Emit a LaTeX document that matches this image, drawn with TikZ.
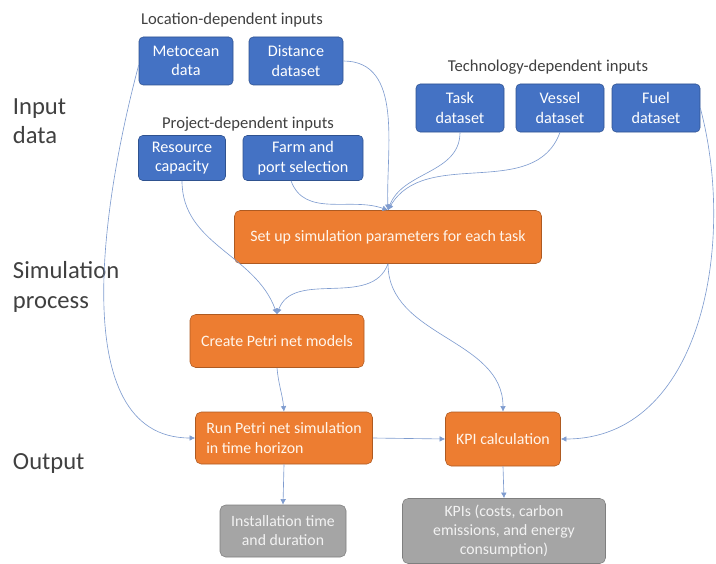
\documentclass[tikz,border=0pt]{standalone}
\usepackage{fontspec}
\setmainfont{Carlito}
\usepackage{xcolor}
\usepackage{tikz}
\usetikzlibrary{arrows.meta,positioning}

\definecolor{inblue}{HTML}{4472C4}
\definecolor{inborder}{HTML}{2F528F}
\definecolor{procorange}{HTML}{ED7D31}
\definecolor{procborder}{HTML}{AE5A21}
\definecolor{outgray}{HTML}{A5A5A5}
\definecolor{outborder}{HTML}{7F7F7F}
\definecolor{linkblue}{HTML}{7F9CCF}
\definecolor{labelgray}{HTML}{404040}

\begin{document}
\begin{tikzpicture}[
    inbox/.style={draw=inborder, fill=inblue, rounded corners=3pt, text=white,
        align=center, font=\fontsize{11.5}{14}\selectfont, inner sep=1pt},
    procbox/.style={draw=procborder, fill=procorange, rounded corners=4pt, text=white!92!orange,
        font=\fontsize{11.3}{14}\selectfont, inner sep=1pt},
    outbox/.style={draw=outborder, fill=outgray, rounded corners=4pt, text=white!90!gray,
        align=center, font=\fontsize{11.2}{13.5}\selectfont, inner sep=1pt},
    group/.style={text=labelgray, font=\fontsize{11.8}{14}\selectfont},
    stage/.style={text=labelgray, anchor=west, align=left, font=\fontsize{17.5}{21}\selectfont},
    conn/.style={linkblue, line width=0.45pt, -{Latex[length=4pt,width=4pt]}}
]

\useasboundingbox (0,0) rectangle (17.9,14.075);

% Stage labels
\node[stage] (lbl-input) at (0.2, 11.05) {Input\\data};
\node[stage] (lbl-sim) at (0.2, 6.9) {Simulation\\process};
\node[stage] (lbl-out) at (0.2, 2.5) {Output};

% Location-dependent inputs
\node[group] (grp-loc) at (5.8, 13.575) {Location-dependent inputs};
\node[inbox, minimum width=2.35cm, minimum height=1.2cm] (meto) at (4.65, 12.55) {Metocean\\data};
\node[inbox, minimum width=2.35cm, minimum height=1.2cm] (dist) at (7.4, 12.55) {Distance\\dataset};

% Technology-dependent inputs
\node[group] (grp-tech) at (13.7, 12.4) {Technology-dependent inputs};
\node[inbox, minimum width=2.2cm, minimum height=1.2cm] (task) at (11.5, 11.375) {Task\\dataset};
\node[inbox, minimum width=2.2cm, minimum height=1.2cm] (vessel) at (14.0, 11.375) {Vessel\\dataset};
\node[inbox, minimum width=2.2cm, minimum height=1.2cm] (fuel) at (16.4, 11.375) {Fuel\\dataset};

% Project-dependent inputs
\node[group] (grp-proj) at (6.2, 10.975) {Project-dependent inputs};
\node[inbox, minimum width=2.175cm, minimum height=1.125cm] (res) at (4.55, 10.125) {Resource\\capacity};
\node[inbox, minimum width=3.0cm, minimum height=1.125cm] (farm) at (7.575, 10.125) {Farm and\\port selection};

% Simulation process
\node[procbox, minimum width=7.675cm, minimum height=1.325cm] (setup) at (9.7, 8.15) {Set up simulation parameters for each task};
\node[procbox, minimum width=4.35cm, minimum height=1.325cm] (create) at (6.925, 5.55) {Create Petri net models};
\node[procbox, minimum width=4.425cm, minimum height=1.3cm, align=left] (run) at (7.1, 3.125) {Run Petri net simulation\\in time horizon};
\node[procbox, minimum width=2.875cm, minimum height=1.35cm] (kpicalc) at (12.575, 3.1) {KPI calculation};

% Output
\node[outbox, minimum width=3.15cm, minimum height=1.3cm] (inst) at (7.075, 0.8) {Installation time\\and duration};
\node[outbox, minimum width=5.075cm, minimum height=1.625cm] (kpis) at (12.6, 0.8) {KPIs (costs, carbon\\emissions, and energy\\consumption)};

% Connectors
\draw[conn] ([yshift=-0.1cm]meto.west) to[out=255, in=180, looseness=0.9] (run.west);
\draw[conn] (dist.east) to[out=0, in=92] (setup.north);
\draw[conn] ([xshift=-0.3cm]farm.south) to[out=-70, in=160] (setup.north);
\draw[conn] (task.south) to[out=-90, in=70] (setup.north);
\draw[conn] (vessel.south) to[out=-110, in=60] (setup.north);
\draw[conn] (res.south) to[out=-90, in=110] (create.north);
\draw[conn] (setup.south) to[out=-110, in=70] (create.north);
\draw[conn] (setup.south) to[out=-90, in=90] (kpicalc.north);
\draw[conn] (fuel.east) to[out=-75, in=0] (kpicalc.east);
\draw[conn] (create.south) to[out=-85, in=95] (run.north);
\draw[conn] (run.east) -- (kpicalc.west);
\draw[conn] (run.south) -- (inst.north);
\draw[conn] (kpicalc.south) -- (kpis.north);

\end{tikzpicture}
\end{document}
